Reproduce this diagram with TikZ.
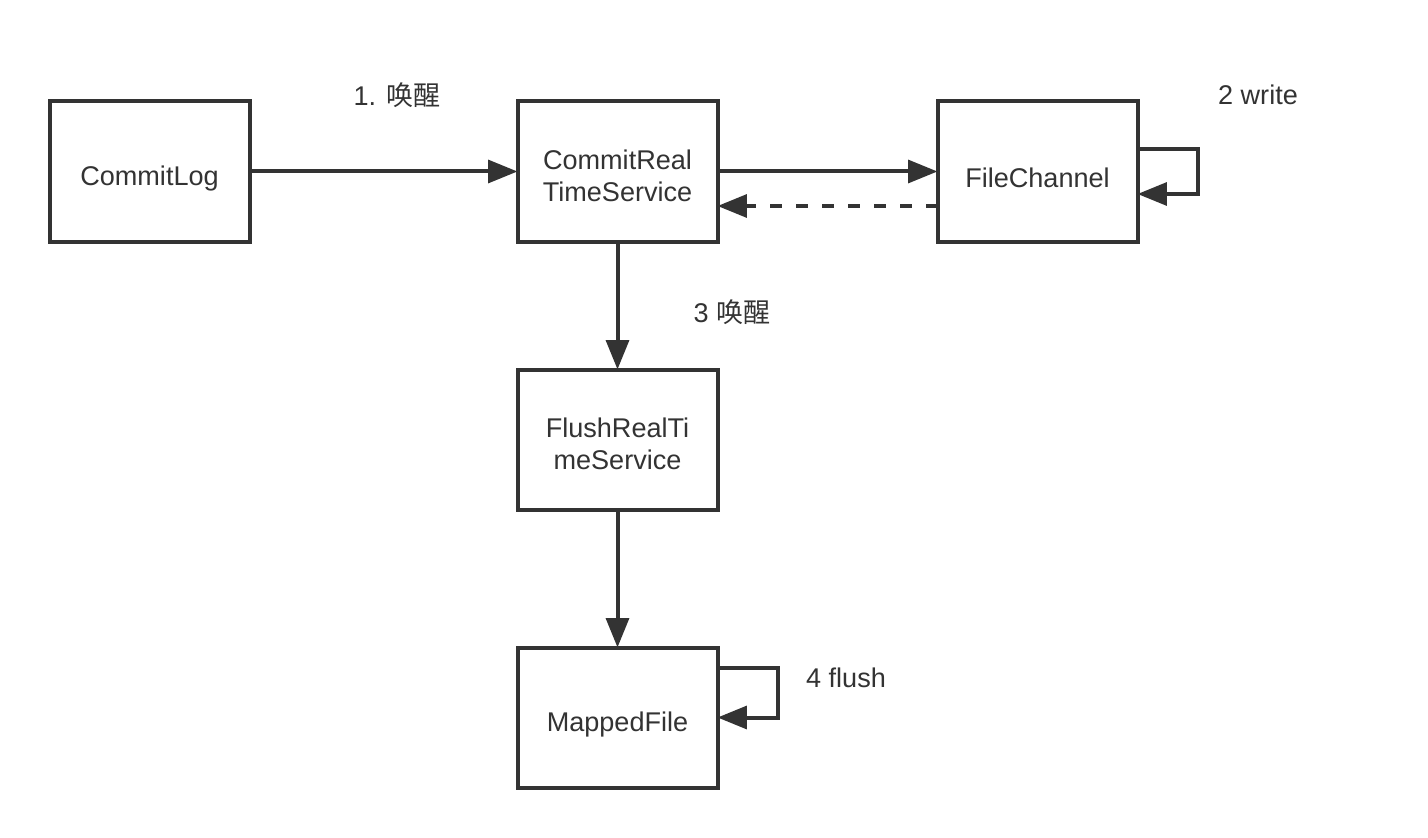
\documentclass[tikz,border=0pt]{standalone}
\usepackage{fontspec}
\setmainfont{Liberation Sans}
\newfontfamily\cjk{Noto Sans CJK SC}
\usetikzlibrary{arrows.meta,calc}
\definecolor{ink}{HTML}{333333}
\begin{document}
\begin{tikzpicture}[x=0.75pt,y=-0.75pt,
  box/.style={draw=ink,line width=3pt,minimum width=150pt,minimum height=105pt,
    inner sep=0pt,outer sep=0pt},
  txt/.style={align=center,text=ink,inner sep=0pt,font=\fontsize{20.3}{24}\selectfont},
  conn/.style={draw=ink,line width=3pt,-{Triangle[length=22pt,width=17pt]}},
  lbl/.style={text=ink,font=\fontsize{20.3}{24}\selectfont,inner sep=0pt}]
\useasboundingbox[fill=white] (0,0) rectangle (1428,838);
\node[box] (cl) at (149.5,171.5) {};
\node[box] (crts) at (617.5,171.5) {};
\node[box] (fc) at (1037.5,171.5) {};
\node[box] (frts) at (617.5,439.5) {};
\node[box] (mf) at (617.5,717.5) {};
\node[txt] (cl-t) at ($(cl)+(0,7)$) {CommitLog};
\node[txt] (crts-t) at ($(crts)+(0,4.5)$) {CommitReal\\TimeService};
\node[txt] (fc-t) at ($(fc)+(0,6)$) {FileChannel};
\node[txt] (frts-t) at ($(frts)+(0,4.5)$) {FlushRealTi\\meService};
\node[txt] (mf-t) at ($(mf)+(0,7)$) {MappedFile};
\draw[conn] (cl.east) -- (crts.west);
\draw[conn] (crts.east) -- (fc.west);
\draw[conn,dash pattern=on 9pt off 10.5pt] ($(fc.west)+(0,34.5)$) -- ($(crts.east)+(0,34.5)$);
\draw[conn] ($(fc.east)+(0,-22.5)$) -- ++(60,0) |- ($(fc.east)+(0,22.5)$);
\draw[conn] (crts.south) -- (frts.north);
\draw[conn] (frts.south) -- (mf.north);
\draw[conn] ($(mf.east)+(0,-50)$) -- ++(60,0) |- (mf.east);
\node[lbl] (l1) at (397,95) {1. {\cjk 唤醒}};
\node[lbl] (l2) at (1258,95) {2 write};
\node[lbl] (l3) at (732,312) {3 {\cjk 唤醒}};
\node[lbl] (l4) at (846,678) {4 flush};
\end{tikzpicture}
\end{document}
